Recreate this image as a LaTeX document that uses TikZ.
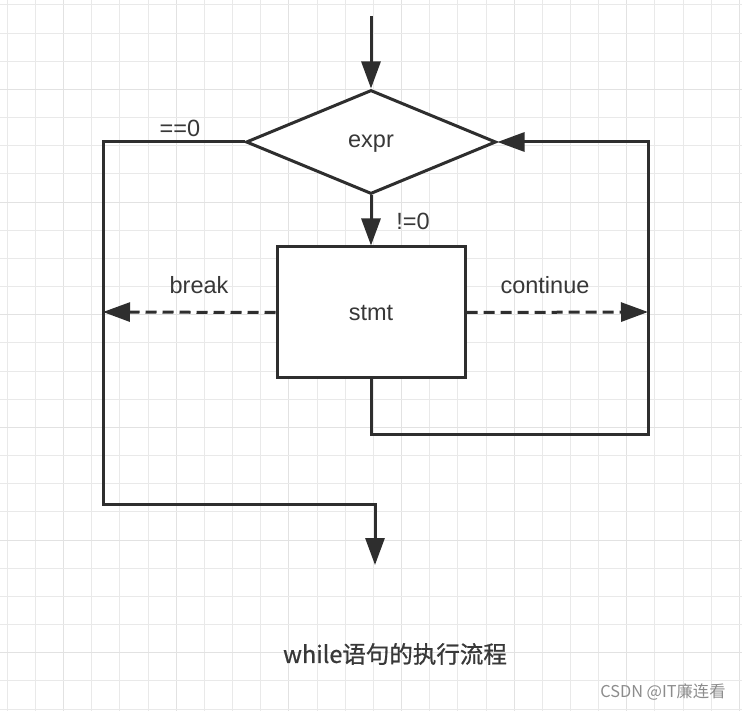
\documentclass[tikz,border=0pt]{standalone}
\usepackage{fontspec}
\setmainfont{Liberation Sans}
\newfontfamily\cjk{Noto Sans CJK SC}
\newfontfamily\cjkb[FakeBold=0.8]{Noto Sans CJK SC}
\usetikzlibrary{shapes.geometric,arrows.meta}
\definecolor{ink}{HTML}{2E2E2E}
\definecolor{txt}{HTML}{383838}
\definecolor{gridminor}{HTML}{E9E9E9}
\definecolor{gridmajor}{HTML}{E2E2E2}
\definecolor{wm}{HTML}{8C8C8C}
\tikzset{
  flow/.style={draw=ink, line width=3pt, line join=miter},
  arr/.style={flow, -{Triangle[length=27pt,width=19pt]}},
  darr/.style={arr, dash pattern=on 11pt off 6pt},
  lbl/.style={text=txt, font=\fontsize{23.5}{28}\selectfont, inner sep=0pt},
  cond/.style={diamond, flow, fill=white, minimum width=250pt, minimum height=104pt, inner sep=0pt, shape aspect=2.4},
  stmtbox/.style={rectangle, flow, fill=white, minimum width=188pt, minimum height=131pt, inner sep=0pt},
}
\begin{document}
\begin{tikzpicture}[x=1pt,y=-1pt]
\useasboundingbox (0,0) rectangle (742,711);
\fill[white] (0,0) rectangle (742,711);
% grid
\foreach \k in {0,...,26}{
  \pgfmathsetmacro{\gx}{7.3+28.16*\k}
  \pgfmathtruncatemacro{\m}{mod(\k+2,4)}
  \ifnum\m=0
    \draw[gridmajor, line width=1pt] (\gx,0) -- (\gx,711);
  \else
    \draw[gridminor, line width=1pt] (\gx,0) -- (\gx,711);
  \fi
}
\foreach \k in {0,...,25}{
  \pgfmathsetmacro{\gy}{5+28.16*\k}
  \pgfmathtruncatemacro{\m}{mod(\k+1,4)}
  \ifnum\m=0
    \draw[gridmajor, line width=1pt] (0,\gy) -- (742,\gy);
  \else
    \draw[gridminor, line width=1pt] (0,\gy) -- (742,\gy);
  \fi
}
% nodes
\node[cond] (d) at (371,142) {};
\node[lbl] (dt) at (371,144) {expr};
\node[stmtbox] (s) at (371,312.5) {};
\node[lbl] (st) at (371,313) {stmt};
\coordinate (start) at (371,16);
\coordinate (l1) at (103,142);
\coordinate (l2) at (103,504);
\coordinate (l3) at (375,504);
\coordinate (lend) at (375,565);
\coordinate (bk) at (103,312);
\coordinate (ct) at (648,312);
\coordinate (r1) at (371,434);
\coordinate (r2) at (648,434);
\coordinate (r3) at (648,142);
% connectors
\draw[arr] (start) -- (d.north);
\draw[arr] (d.south) -- (s.north);
\draw[arr] (d.west) -- (l1) -- (l2) -- (l3) -- (lend);
\draw[darr] (s.west) -- (bk);
\draw[darr] (s.east) -- (ct);
\draw[arr] (s.south) -- (r1) -- (r2) -- (r3) -- (d.east);
% labels
\node[lbl] (neq) at (413,221) {!=0};
\node[lbl] (eq) at (180,128) {==0};
\node[lbl] (brk) at (199,285) {break};
\node[lbl] (cnt) at (545,285) {continue};
\node[text=txt, font=\cjkb\fontsize{23.5}{28}\selectfont, inner sep=0pt] (cap) at (395,654) {while语句的执行流程};
\node[text=wm, font=\cjk\fontsize{16.3}{19}\selectfont, inner sep=0pt] (wmk) at (663,692) {CSDN @IT廉连看};
\end{tikzpicture}
\end{document}
